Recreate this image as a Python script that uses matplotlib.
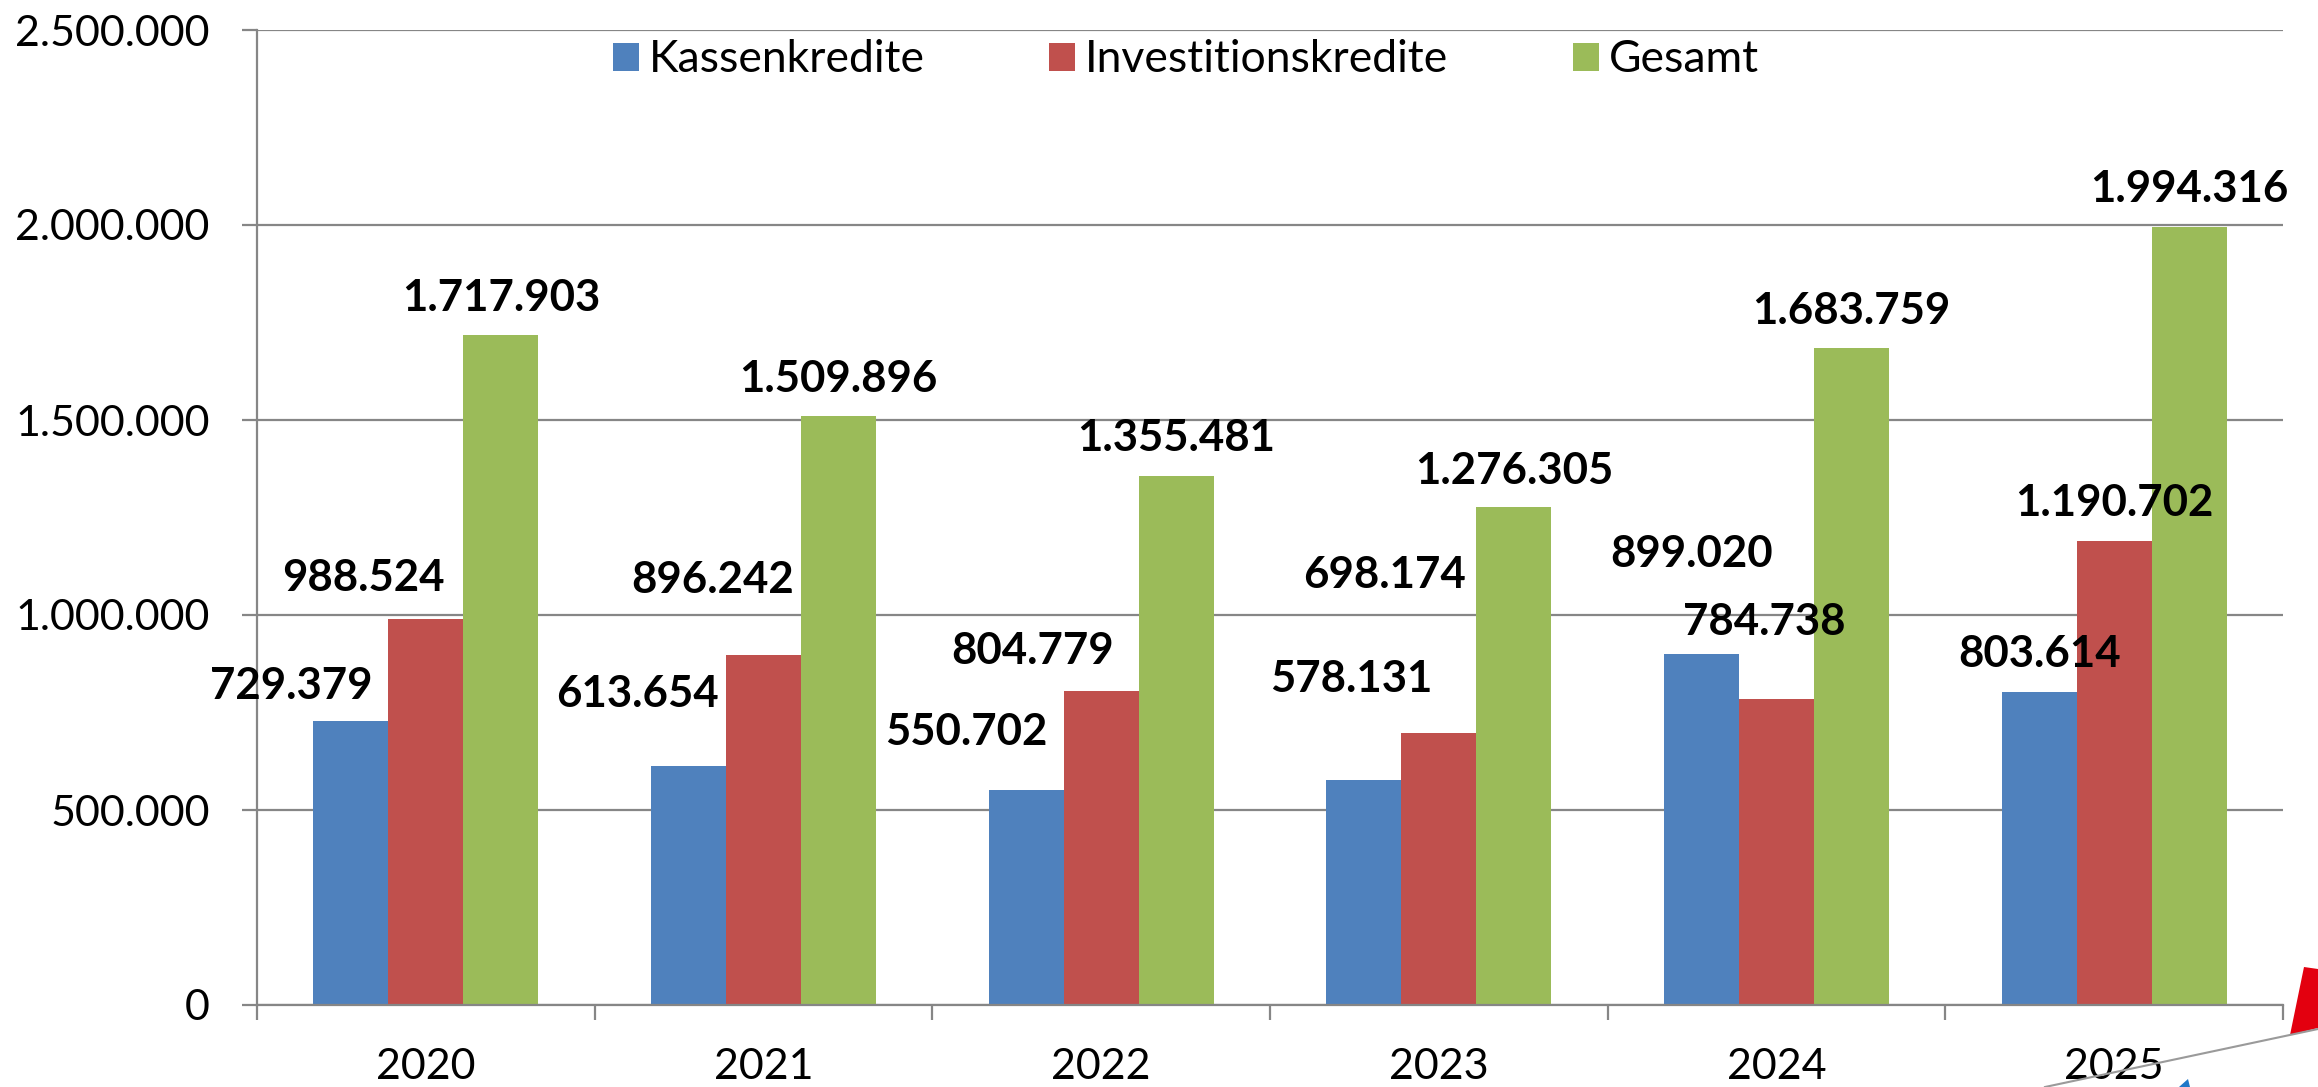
import matplotlib
matplotlib.use("Agg")
import matplotlib.pyplot as plt
import numpy as np
from matplotlib.ticker import FuncFormatter
from matplotlib.lines import Line2D
from matplotlib.patches import Polygon

# ---------------- data ----------------
years = ["2020", "2021", "2022", "2023", "2024", "2025"]
series_names = ["Kassenkredite", "Investitionskredite", "Gesamt"]
kassenkredite = [729379, 613654, 550702, 578131, 899020, 803614]
investitionskredite = [988524, 896242, 804779, 698174, 784738, 1190702]
gesamt = [1717903, 1509896, 1355481, 1276305, 1683759, 1994316]
y_ticks = [0, 500000, 1000000, 1500000, 2000000, 2500000]

# ---------------- style ----------------
colors = ["#4F81BD", "#C0504D", "#9BBB59"]
grid_color = "#868686"
# manual label placement (pixels): horizontal shift, baseline height above bar top
label_dx = [[-60, -51, -60, -12, -10, 0],
            [-62, -51, -69, -54, -12, 0],
            [0, 0, 0, 0, 0, 0]]
label_dy = [[22, 59, 45, 88, 87, 25],
            [28, 62, 27, 145, 64, 25],
            [24, 24, 25, 23, 24, 25]]

plt.rcParams['font.family'] = ['Lato', 'DejaVu Sans']
FS_TICK = 31
FS_LABEL = 31.5
FS_LEG = 32

W, H = 2318, 1087
fig = plt.figure(figsize=(W / 100, H / 100), dpi=100)
ax = fig.add_axes([257 / W, (H - 1005) / H, (2283 - 257) / W, (1005 - 30) / H])


def fmt(v, pos=None):
    return f"{int(round(v)):,}".replace(",", ".")


x = np.arange(len(years))
bw = 1 / 4.5
all_series = [kassenkredite, investitionskredite, gesamt]
handles = []
for i, (vals, name, col) in enumerate(zip(all_series, series_names, colors)):
    xs = x + (i - 1) * bw
    bars = ax.bar(xs, vals, width=bw, color=col, edgecolor='none', label=name, zorder=2)
    handles.append(bars)
    for j, (xx, v) in enumerate(zip(xs, vals)):
        ax.annotate(fmt(v), xy=(xx, v), xytext=(label_dx[i][j], label_dy[i][j]),
                    textcoords='offset pixels', ha='center', va='baseline',
                    fontsize=FS_LABEL, fontweight='bold', color='black', zorder=5)

ax.set_xlim(-0.5, len(years) - 0.5)
ax.set_ylim(0, 2500000)
ax.set_yticks(y_ticks)
ax.yaxis.set_major_formatter(FuncFormatter(fmt))
ax.set_xticks(x)
ax.set_xticklabels(years)
ax.set_xticks(np.arange(-0.5, len(years), 1), minor=True)

ax.set_axisbelow(True)
ax.yaxis.grid(True, color=grid_color, linewidth=1.6, zorder=0)
for s in ['top', 'right']:
    ax.spines[s].set_visible(False)
for s in ['left', 'bottom']:
    ax.spines[s].set_color(grid_color)
    ax.spines[s].set_linewidth(1.6)

ax.tick_params(axis='x', which='major', length=0, pad=31, labelsize=FS_TICK)
ax.tick_params(axis='x', which='minor', length=11, width=1.6, color=grid_color)
ax.tick_params(axis='y', which='major', length=11, width=1.6, color=grid_color,
               pad=23, labelsize=FS_TICK)

fig.legend(handles, series_names, loc='center left',
           bbox_to_anchor=(613 / W, 1 - 60 / H), ncol=3, frameon=False,
           fontsize=FS_LEG, handlelength=0.585, handleheight=0.585,
           handletextpad=0.22, columnspacing=2.8, borderpad=0, borderaxespad=0)

# decorative overlapping graphic in the lower-right corner
fig.add_artist(Line2D([2045 / W, 2318 / W], [1 - 1087 / H, 1 - 1029 / H],
                      transform=fig.transFigure, color='#9a9a9a', lw=1.5))
fig.add_artist(Polygon([(2290 / W, 1 - 1035 / H), (2304 / W, 1 - 967 / H),
                        (2318 / W, 1 - 969 / H), (2318 / W, 1 - 1028 / H)],
                       closed=True, transform=fig.transFigure,
                       facecolor='#E3000F', edgecolor='none'))
fig.add_artist(Polygon([(2179 / W, 1 - 1087 / H), (2188 / W, 1 - 1079 / H),
                        (2190 / W, 1 - 1087 / H)],
                       closed=True, transform=fig.transFigure,
                       facecolor='#1F78C8', edgecolor='none'))

fig.savefig("out.png", dpi=100)
